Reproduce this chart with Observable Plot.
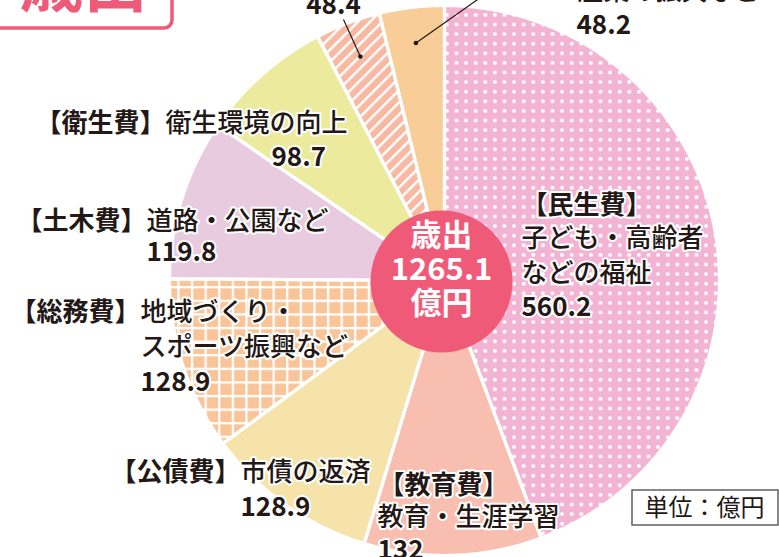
<!DOCTYPE html>
<html><head><meta charset="utf-8">
<script src="https://cdn.jsdelivr.net/npm/d3@7"></script>
<script src="https://cdn.jsdelivr.net/npm/@observablehq/plot@0.6"></script>
<style>
html,body{margin:0;padding:0;background:#fff;}
#chart{width:779px;height:557px;overflow:hidden;}
svg{display:block;}
</style></head><body><div id="chart"></div>
<script>
// ---- data ----
const categories = ["民生費","教育費","公債費","総務費","土木費","衛生費","消防費","商工費"];
const descriptions = [["子ども・高齢者","などの福祉"],["教育・生涯学習"],["市債の返済"],["地域づくり・","スポーツ振興など"],["道路・公園など"],["衛生環境の向上"],[],["産業の振興など"]];
const values = [560.2,132,128.9,128.9,119.8,98.7,48.4,48.2];
const centerLines = ["歳出","億円"];
const badgeText = "歳出";
const unitText = "単位：億円";

// ---- styles ----
const sliceColors = ["#f3b3d3","#f8bfb1","#f5e3a9","#f9c497","#e9cbe0","#ecea9c","#f8b9a3","#f8cd98"];
const slicePatterns = ["dots",null,null,"grid",null,null,"stripes",null];
const INK = "#231815", PINK = "#ef5a78";
const FONT = "'Noto Sans CJK JP','Noto Sans',sans-serif";

// ---- layout ----
const W=779,H=557,CX=444,CY=280,R=275;
const ux = px => (px-CX)/R, uy = py => (CY-py)/R;
const LINE = 35;
const labelPos = [
 {head:{x:521,y:205,a:"start"}, desc:{x:521,y:238}, val:{x:521,y:307}},
 {head:{x:378,y:485,a:"start"}, desc:{x:377,y:517}, val:{x:377,y:550}},
 {head:{x:240,y:472,a:"end"},   desc:{x:240,y:472}, val:{x:240,y:507}},
 {head:{x:140,y:312,a:"end"},   desc:{x:140,y:312}, val:{x:140,y:382}},
 {head:{x:146,y:221,a:"end"},   desc:{x:146,y:221}, val:{x:146,y:252}},
 {head:{x:165,y:123,a:"end"},   desc:{x:165,y:123}, val:{x:271,y:157}},
 {head:null, desc:null, val:{x:333,y:5,a:"middle"}, leader:{x:343,y:19}},
 {head:null, desc:{x:577,y:-9}, val:{x:576,y:25}, leader:{x:490,y:-10}},
];

// ---- pie geometry (from data) ----
const pie = d3.pie().sort(null).value(d=>d)(values);
const poly = [];
pie.forEach((p,i)=>{
  poly.push({k:i,x:0,y:0});
  const n = Math.max(2, Math.ceil((p.endAngle-p.startAngle)/(Math.PI/360)));
  for(let j=0;j<=n;j++){const a=p.startAngle+(p.endAngle-p.startAngle)*j/n; poly.push({k:i,x:Math.sin(a),y:Math.cos(a)});}
  poly.push({k:i,x:0,y:0});
});
const sliceOf = i => poly.filter(d=>d.k===i);

// ---- labels ----
const boldItems=[], descItems=[], leaders=[];
categories.forEach((c,i)=>{
  const L=labelPos[i];
  if(L.head) boldItems.push({t:`【${c}】`, x:ux(L.head.x), y:uy(L.head.y), a:L.head.a});
  if(L.desc) descriptions[i].forEach((line,j)=>descItems.push({t:line, x:ux(L.desc.x), y:uy(L.desc.y+j*LINE), a:"start"}));
  boldItems.push({t:String(values[i]), x:ux(L.val.x), y:uy(L.val.y), a:L.val.a||"start"});
  if(L.leader){
    const p=pie[i], m=(p.startAngle+p.endAngle)/2;
    leaders.push({x1:0.87*Math.sin(m), y1:0.87*Math.cos(m), x2:ux(L.leader.x), y2:uy(L.leader.y)});
  }
});
const total = d3.sum(values).toFixed(1);
const centerItems = [
  {t:centerLines[0], x:ux(441), y:uy(236)},
  {t:total, x:ux(441), y:uy(270)},
  {t:centerLines[1], x:ux(441), y:uy(304)}
];

function textMarks(items, opts){
  return ["start","middle","end"].map(a=>Plot.text(items.filter(d=>d.a===a),{
    x:"x",y:"y",text:"t",textAnchor:a,lineAnchor:"middle",fontFamily:FONT,fontSize:26,
    fill:INK,stroke:"white",strokeWidth:4,paintOrder:"stroke",...opts}));
}

const marks = [];
pie.forEach((p,i)=>marks.push(Plot.line(sliceOf(i),{x:"x",y:"y",fill:sliceColors[i],stroke:null,curve:"linear"})));
pie.forEach((p,i)=>{ if(slicePatterns[i]) marks.push(Plot.line(sliceOf(i),{x:"x",y:"y",fill:`url(#pat-${slicePatterns[i]})`,stroke:null,curve:"linear"})); });
marks.push(Plot.line(poly,{x:"x",y:"y",z:"k",fill:"none",stroke:"white",strokeWidth:3.2,strokeLinejoin:"round",curve:"linear"}));
// badge top-left
marks.push(Plot.rect([{x1:ux(-6),x2:ux(172),y1:uy(28),y2:uy(-30)}],{x1:"x1",x2:"x2",y1:"y1",y2:"y2",fill:"white",stroke:PINK,strokeWidth:3.5,rx:8}));
marks.push(Plot.text([{t:badgeText,x:ux(83),y:uy(-15)}],{x:"x",y:"y",text:"t",fontFamily:FONT,fontSize:64,fontWeight:"bold",fill:PINK,lineAnchor:"middle"}));
// center circle
marks.push(Plot.dot([{x:ux(441),y:uy(281)}],{x:"x",y:"y",r:71,fill:PINK,stroke:null}));
marks.push(Plot.text(centerItems,{x:"x",y:"y",text:"t",fontFamily:FONT,fontSize:31,fontWeight:"bold",fill:"white",lineAnchor:"middle"}));
// leaders
marks.push(Plot.link(leaders,{x1:"x1",y1:"y1",x2:"x2",y2:"y2",stroke:INK,strokeWidth:1.2}));
marks.push(Plot.dot(leaders,{x:"x1",y:"y1",r:2.3,fill:INK,stroke:null}));
// labels
marks.push(...textMarks(descItems,{fontWeight:500}));
marks.push(...textMarks(boldItems,{fontWeight:"bold"}));
// unit box
marks.push(Plot.rect([{x1:ux(632),x2:ux(778),y1:uy(490),y2:uy(525)}],{x1:"x1",x2:"x2",y1:"y1",y2:"y2",fill:"white",stroke:"#555",strokeWidth:1.4}));
marks.push(Plot.text([{t:unitText,x:ux(644),y:uy(508)}],{x:"x",y:"y",text:"t",textAnchor:"start",fontFamily:FONT,fontSize:24,fill:INK,lineAnchor:"middle"}));

const svg = Plot.plot({
  width:W,height:H,margin:0,
  x:{domain:[ux(0),ux(W)],axis:null},
  y:{domain:[uy(H),uy(0)],axis:null},
  style:{background:"white",fontFamily:FONT,overflow:"hidden"},
  marks
});

// patterns
const defs = d3.select(svg).insert("defs",":first-child");
const pd = defs.append("pattern").attr("id","pat-dots").attr("patternUnits","userSpaceOnUse").attr("width",9.6).attr("height",9.6);
pd.append("circle").attr("cx",4.8).attr("cy",4.8).attr("r",2.0).attr("fill","#fff");
const pg = defs.append("pattern").attr("id","pat-grid").attr("patternUnits","userSpaceOnUse").attr("width",13.6).attr("height",13.6);
pg.append("rect").attr("x",0).attr("y",0).attr("width",2.3).attr("height",13.6).attr("fill","#fff");
pg.append("rect").attr("x",0).attr("y",0).attr("width",13.6).attr("height",2.3).attr("fill","#fff");
const ps = defs.append("pattern").attr("id","pat-stripes").attr("patternUnits","userSpaceOnUse").attr("width",8.6).attr("height",8.6).attr("patternTransform","rotate(45)");
ps.append("rect").attr("x",0).attr("y",0).attr("width",2.4).attr("height",8.6).attr("fill","#fff");

document.getElementById("chart").appendChild(svg);
</script></body></html>
